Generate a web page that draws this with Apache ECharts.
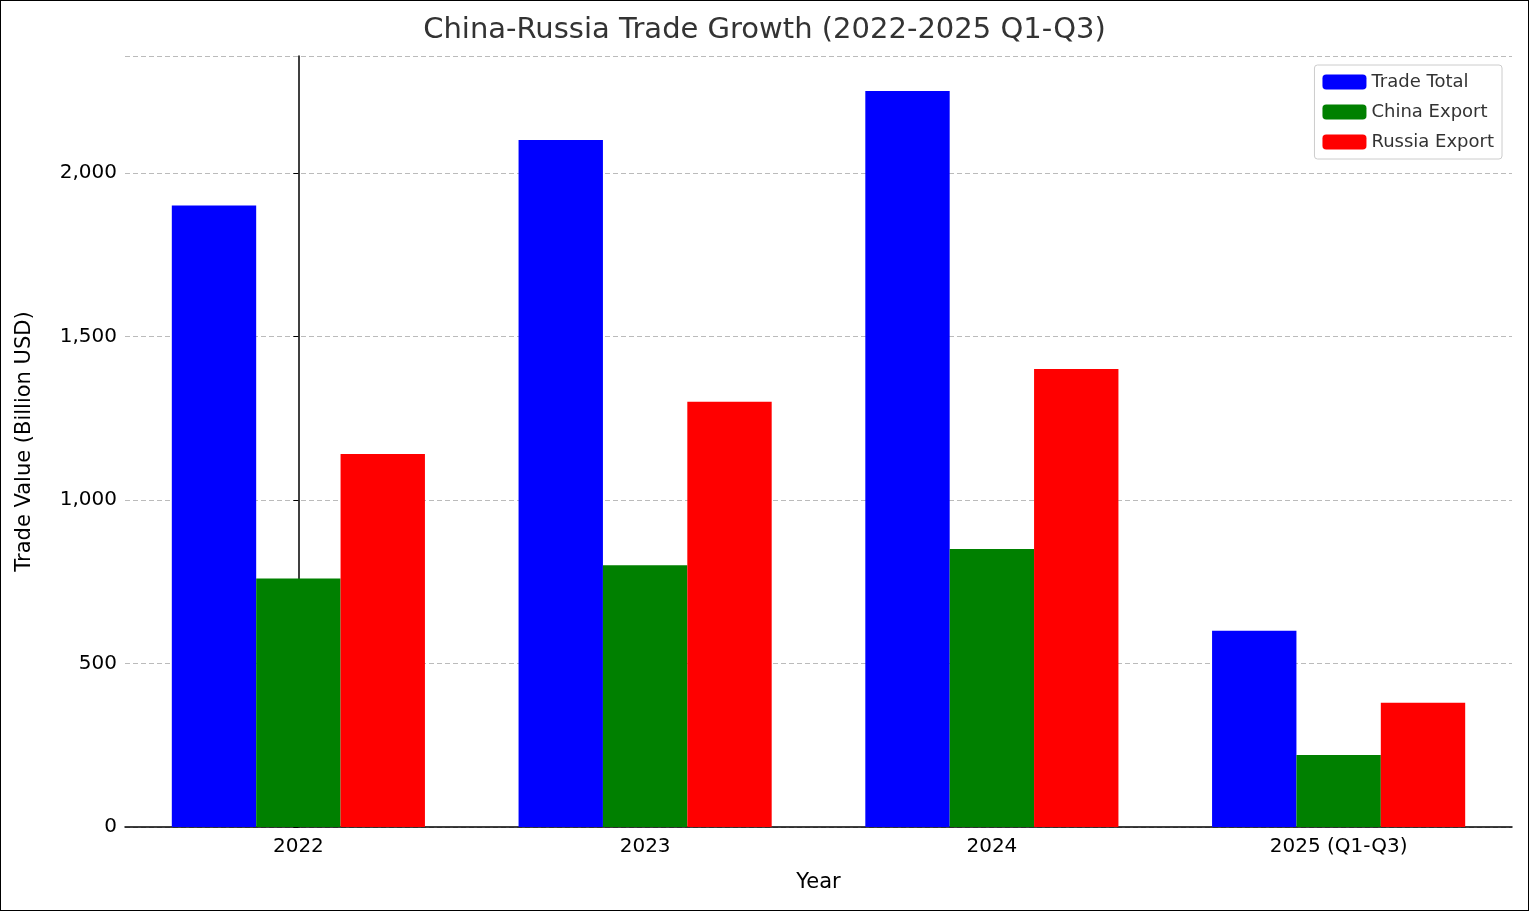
<!DOCTYPE html>
<html><head><meta charset="utf-8">
<script src="https://cdn.jsdelivr.net/npm/echarts@6/dist/echarts.min.js"></script>
<style>html,body{margin:0;padding:0;background:#fff}#c{width:1527px;height:909px;border:1px solid #000}</style>
</head><body><div id="c"></div>
<script>
const years = ['2022', '2023', '2024', '2025 (Q1-Q3)'];
const tradeTotal = [1900, 2100, 2250, 600];
const chinaExport = [760, 800, 850, 220];
const russiaExport = [1140, 1300, 1400, 380];

const chart = echarts.init(document.getElementById('c'));
const font = 'DejaVu Sans';
const dash = {show: true, lineStyle: {color: '#bbb', type: [5, 3], width: 1}};
chart.setOption({
    animation: false,
    textStyle: {fontFamily: font},
    title: {text: 'China-Russia Trade Growth (2022-2025 Q1-Q3)', left: 'center', top: 10,
        textStyle: {fontFamily: font, fontSize: 29, fontWeight: 'normal', color: '#333'}},
    legend: {right: 26, top: 64, orient: 'vertical', itemWidth: 44, itemHeight: 15, itemGap: 12,
        borderColor: '#ccc', borderWidth: 1, borderRadius: 3, padding: [8, 8, 8, 8],
        textStyle: {fontFamily: font, fontSize: 18, color: '#333'},
        data: ['Trade Total', 'China Export', 'Russia Export']},
    grid: {left: 124, right: 16, top: 55, bottom: 83},
    xAxis: [{
        type: 'category', data: years, name: 'Year', nameLocation: 'middle', nameGap: 45,
        nameTextStyle: {fontSize: 21, color: '#000'},
        axisLine: {lineStyle: {color: '#000', width: 1.5}},
        axisTick: {alignWithLabel: true, lineStyle: {color: '#000'}},
        axisLabel: {fontSize: 20, color: '#000', margin: 10},
        splitLine: {show: false}
    }, {
        type: 'value', min: -0.5, max: 3.5, interval: 1, show: false, splitLine: dash
    }],
    yAxis: {
        type: 'value', min: 0, max: 2357, interval: 500,
        name: 'Trade Value (Billion USD)', nameLocation: 'middle', nameGap: 90,
        nameTextStyle: {fontSize: 21, color: '#000'},
        axisLine: {show: true, lineStyle: {color: '#000', width: 1.5}},
        axisTick: {show: true, lineStyle: {color: '#000'}},
        axisLabel: {fontSize: 20, color: '#000', showMaxLabel: false},
        splitLine: dash
    },
    series: [
        {name: 'Trade Total', type: 'bar', data: tradeTotal, itemStyle: {color: '#0000ff'}, barGap: '0%', barCategoryGap: '27%'},
        {name: 'China Export', type: 'bar', data: chinaExport, itemStyle: {color: '#008000'}},
        {name: 'Russia Export', type: 'bar', data: russiaExport, itemStyle: {color: '#ff0000'}}
    ]
});
</script></body></html>
